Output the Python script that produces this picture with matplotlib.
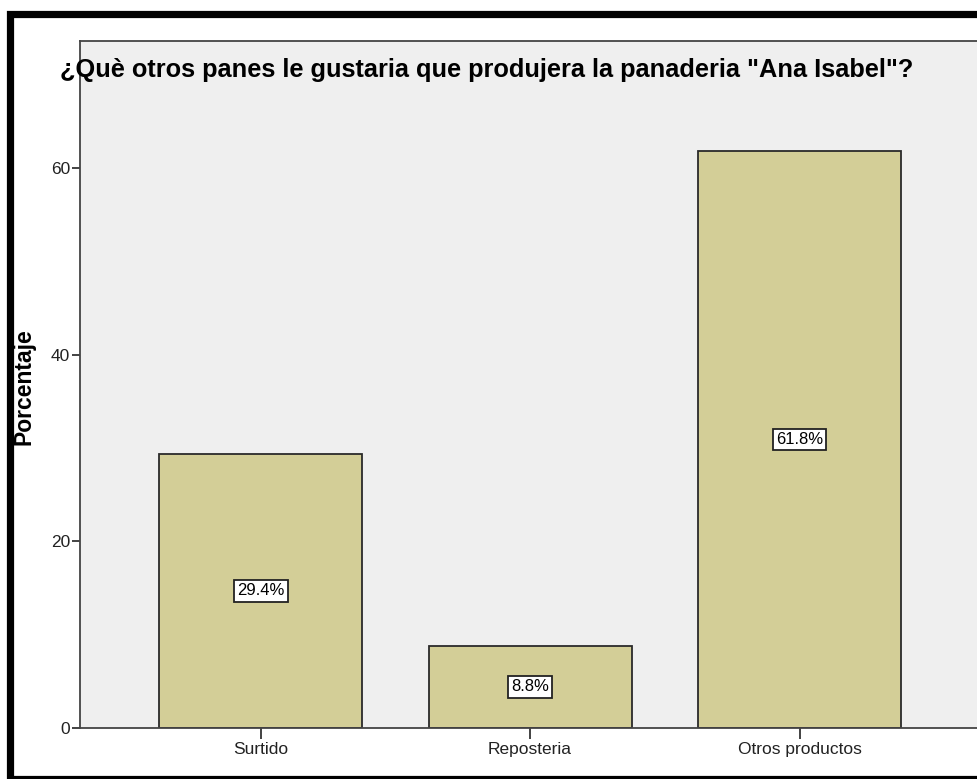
import matplotlib.pyplot as plt
from matplotlib.patches import Rectangle

plt.rcParams['font.family'] = ['Liberation Sans', 'DejaVu Sans']

categorias = ['Surtido', 'Reposteria', 'Otros productos']
porcentajes = [29.4, 8.8, 61.8]
yticks = [0, 20, 40, 60]

fig = plt.figure(figsize=(9.78, 7.79), dpi=100)
ax = fig.add_axes([0.0818, 0.0655, 1 - 0.0818, 0.9474 - 0.0655])
ax.set_facecolor('#EFEFEF')

x = range(len(categorias))
ax.bar(x, porcentajes, width=0.753, color='#D3CE97', edgecolor='#2a2a2a', linewidth=1.3)

# etiquetas de porcentaje en el centro de cada barra
for xi, v in zip(x, porcentajes):
    ax.text(xi, v / 2, f'{v:.1f}%', ha='center', va='center', fontsize=12,
            bbox=dict(boxstyle='square,pad=0.2', fc='white', ec='#222222', lw=1.3))

ax.set_xlim(-0.67, 2.662)
ax.set_ylim(0, 73.6)
ax.set_xticks(list(x))
ax.set_xticklabels(categorias, fontsize=12.5)
ax.set_yticks(yticks)
ax.set_yticklabels([str(t) for t in yticks], fontsize=12.5)
ax.tick_params(axis='y', direction='out', length=6, width=1.2, pad=1, colors='#222222')
ax.tick_params(axis='x', direction='out', length=8, width=1.2, pad=2, colors='#222222')
for s in ['left', 'bottom', 'top']:
    ax.spines[s].set_color('#444444')
    ax.spines[s].set_linewidth(1.3)
ax.spines['right'].set_visible(False)

ax.set_ylabel('Porcentaje', fontsize=16.5, fontweight='bold')
ax.yaxis.set_label_coords(-0.050, 0.497)

fig.text(60 / 978, 1 - 70 / 779, '¿Què otros panes le gustaria que produjera la panaderia "Ana Isabel"?',
         fontsize=18.3, fontweight='bold', ha='left', va='center')

# marco negro exterior
fig.patches.append(Rectangle((9.5 / 978, 0), 1.0, 1 - 13.5 / 779, transform=fig.transFigure,
                             fill=False, ec='black', lw=5.2))

fig.savefig('out.png', dpi=100, facecolor='white')
